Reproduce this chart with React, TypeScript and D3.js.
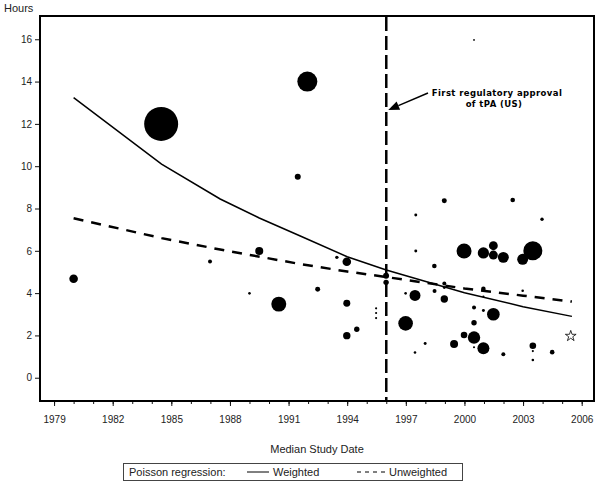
import React, { useRef, useEffect } from 'react';
import * as d3 from 'd3';

// study points: median study date, hours, study weight (bubble area)
const studyYears = [
  1980.0, 1984.48, 1991.96, 1991.47, 1986.98, 1989.5, 1989.0, 1990.5, 1992.49, 1993.47,
  1993.98, 1993.98, 1993.98, 1994.49, 1995.48, 1995.48, 1995.48, 1995.99, 1995.99, 1995.99,
  2000.49, 1998.97, 2002.47, 1997.51, 2003.97, 1997.51, 1999.98, 2000.97, 2001.48, 2001.48,
  2001.99, 2002.98, 2003.5, 1998.46, 1998.97, 1998.97, 1996.99, 1997.47, 1998.47, 1998.97,
  2000.97, 2000.97, 2000.49, 2000.97, 2001.48, 2002.98, 1996.99, 2000.49, 1999.98, 2000.49,
  1999.47, 2000.97, 1997.99, 1997.47, 2000.49, 2001.99, 2003.5, 2003.5, 2003.5, 2004.49,
];
const studyHours = [
  4.68, 12.0, 14.0, 9.5, 5.5, 5.99, 3.99, 3.48, 4.18, 5.69,
  5.48, 3.52, 1.99, 2.29, 3.28, 3.06, 2.82, 4.82, 4.51, 2.99,
  15.97, 8.37, 8.4, 7.69, 7.49, 5.99, 5.99, 5.9, 6.24, 5.8,
  5.69, 5.6, 6.0, 5.28, 4.46, 4.26, 3.99, 3.89, 4.1, 3.72,
  4.2, 3.84, 3.32, 3.18, 3.0, 4.11, 2.57, 2.6, 2.02, 1.9,
  1.59, 1.39, 1.62, 1.19, 1.44, 1.11, 1.51, 1.26, 0.84, 1.21,
];
const studyWeights = [
  185, 2890, 1000, 90, 40, 160, 17, 560, 62, 29,
  185, 122, 137, 73, 12, 12, 12, 90, 73, 12,
  6, 62, 53, 22, 29, 22, 560, 315, 195, 200,
  300, 300, 900, 53, 40, 22, 17, 300, 40, 137,
  53, 12, 40, 22, 400, 17, 535, 73, 109, 385,
  160, 360, 22, 17, 12, 40, 109, 12, 17, 53,
];

// the single study marked with a star
const starYear = 2005.44;
const starHours = 1.97;

// Poisson regression fits
const weightedYears = [1980, 1984.5, 1987.5, 1989.5, 1991.6, 1994, 1996, 2000, 2003, 2005.5];
const weightedHours = [13.24, 10.1, 8.45, 7.55, 6.7, 5.72, 5.09, 4.02, 3.36, 2.9];
const unweightedYears = [1980, 1984.5, 1987.5, 1991.5, 1994, 1996, 2000, 2003, 2005.5];
const unweightedHours = [7.54, 6.6, 6.06, 5.39, 5.02, 4.76, 4.22, 3.88, 3.6];

const approvalYear = 1996;
const xMajorTicks = [1979, 1982, 1985, 1988, 1991, 1994, 1997, 2000, 2003, 2006];
const xMinorTicks = d3.range(1979, 2007);
const yTicks = [0, 2, 4, 6, 8, 10, 12, 14, 16];

const FONT = '"Liberation Sans", Arial, sans-serif';

function App() {
  const ref = useRef<SVGSVGElement>(null);

  useEffect(() => {
    const svg = d3.select(ref.current);
    svg.selectAll('*').remove();

    const w = 600, h = 493;
    const left = 40, right = 594, top = 16, bottom = 401;

    svg.attr('width', w).attr('height', h);

    const x = d3.scaleLinear().domain([1978.28, 2006.63]).range([left, right]);
    const y = d3.scaleLinear().domain([-1.1, 17.1]).range([bottom, top]);
    const r = d3.scaleSqrt().domain([0, 2890]).range([0, 17]);

    svg.append('rect').attr('width', w).attr('height', h).attr('fill', '#fff');

    // axes
    const xMinor = svg.append('g').attr('transform', `translate(0,${bottom})`)
      .call(d3.axisBottom(x).tickValues(xMinorTicks).tickSize(3).tickFormat(() => ''));
    xMinor.select('.domain').remove();

    const xAxis = svg.append('g').attr('transform', `translate(0,${bottom})`)
      .call(d3.axisBottom(x).tickValues(xMajorTicks).tickSize(5).tickPadding(10).tickFormat(d3.format('d')));
    xAxis.select('.domain').remove();
    xAxis.selectAll('text').attr('font-family', FONT).attr('font-size', 10).attr('fill', '#222');

    const yAxis = svg.append('g').attr('transform', `translate(${left},0)`)
      .call(d3.axisLeft(y).tickValues(yTicks).tickSize(5).tickPadding(3));
    yAxis.select('.domain').remove();
    yAxis.selectAll('text').attr('font-family', FONT).attr('font-size', 10).attr('fill', '#222');

    svg.selectAll('.tick line').attr('stroke', '#111').attr('stroke-width', 1);

    // frame
    svg.append('rect')
      .attr('x', left).attr('y', top)
      .attr('width', right - left).attr('height', bottom - top)
      .attr('fill', 'none').attr('stroke', '#000').attr('stroke-width', 2);

    // bubbles
    const idx = d3.range(studyYears.length);
    svg.append('g').selectAll('circle')
      .data(idx)
      .enter()
      .append('circle')
      .attr('cx', (i) => x(studyYears[i]))
      .attr('cy', (i) => y(studyHours[i]))
      .attr('r', (i) => Math.max(0.9, r(studyWeights[i])))
      .attr('fill', '#000');

    // star
    svg.append('path')
      .attr('d', d3.symbol(d3.symbolStar, 36)())
      .attr('transform', `translate(${x(starYear)},${y(starHours)})`)
      .attr('fill', '#fff').attr('stroke', '#000').attr('stroke-width', 0.8);

    // regression lines
    const line = d3.line<[number, number]>().x((d) => x(d[0])).y((d) => y(d[1]));
    svg.append('path')
      .attr('d', line(weightedYears.map((yr, i) => [yr, weightedHours[i]] as [number, number])))
      .attr('fill', 'none').attr('stroke', '#000').attr('stroke-width', 1.5);
    svg.append('path')
      .attr('d', line(unweightedYears.map((yr, i) => [yr, unweightedHours[i]] as [number, number])))
      .attr('fill', 'none').attr('stroke', '#000').attr('stroke-width', 2.5)
      .attr('stroke-dasharray', '10,8');

    // approval line
    svg.append('line')
      .attr('x1', x(approvalYear)).attr('x2', x(approvalYear))
      .attr('y1', top + 1).attr('y2', bottom - 1)
      .attr('stroke', '#000').attr('stroke-width', 2.5)
      .attr('stroke-dasharray', '14,5');

    // annotation arrow
    const ax = x(approvalYear) + 2, ay = 110;
    const bx = 428, by = 93;
    const ang = Math.atan2(by - ay, bx - ax);
    const hl = 11, hw = 4.5;
    const baseX = ax + Math.cos(ang) * hl, baseY = ay + Math.sin(ang) * hl;
    svg.append('line')
      .attr('x1', baseX).attr('y1', baseY).attr('x2', bx).attr('y2', by)
      .attr('stroke', '#000').attr('stroke-width', 1.5);
    svg.append('path')
      .attr('d', `M${ax},${ay} L${baseX - Math.sin(ang) * hw},${baseY + Math.cos(ang) * hw} L${baseX + Math.sin(ang) * hw},${baseY - Math.cos(ang) * hw} Z`)
      .attr('fill', '#000');

    const note = svg.append('text')
      .attr('font-family', '"DejaVu Sans", sans-serif')
      .attr('font-weight', 'bold').attr('font-size', 8.5)
      .attr('letter-spacing', 0.4)
      .attr('text-anchor', 'middle').attr('fill', '#000');
    note.append('tspan').attr('x', 497).attr('y', 96).text('First regulatory approval');
    note.append('tspan').attr('x', 494).attr('y', 107).text('of tPA (US)');

    // titles
    svg.append('text').attr('x', 4).attr('y', 12)
      .attr('font-family', FONT).attr('font-size', 11).attr('fill', '#222').text('Hours');
    svg.append('text').attr('x', (left + right) / 2).attr('y', 453)
      .attr('text-anchor', 'middle')
      .attr('font-family', FONT).attr('font-size', 11).attr('fill', '#222').text('Median Study Date');

    // legend
    const lg = svg.append('g');
    lg.append('rect').attr('x', 123.5).attr('y', 463.5).attr('width', 339).attr('height', 17)
      .attr('fill', 'none').attr('stroke', '#444').attr('stroke-width', 1);
    const ly = 472;
    lg.append('text').attr('x', 129).attr('y', ly + 4)
      .attr('font-family', FONT).attr('font-size', 11).attr('fill', '#222').text('Poisson regression:');
    lg.append('line').attr('x1', 247).attr('x2', 269).attr('y1', ly).attr('y2', ly)
      .attr('stroke', '#000').attr('stroke-width', 1);
    lg.append('text').attr('x', 273).attr('y', ly + 4)
      .attr('font-family', FONT).attr('font-size', 11).attr('fill', '#222').text('Weighted');
    lg.append('line').attr('x1', 357).attr('x2', 385).attr('y1', ly).attr('y2', ly)
      .attr('stroke', '#000').attr('stroke-width', 1).attr('stroke-dasharray', '4,4');
    lg.append('text').attr('x', 389).attr('y', ly + 4)
      .attr('font-family', FONT).attr('font-size', 11).attr('fill', '#222').text('Unweighted');
  }, []);

  return (
    <svg ref={ref} style={{ position: 'absolute', left: 0, top: 0 }}></svg>
  );
}

export default App;
